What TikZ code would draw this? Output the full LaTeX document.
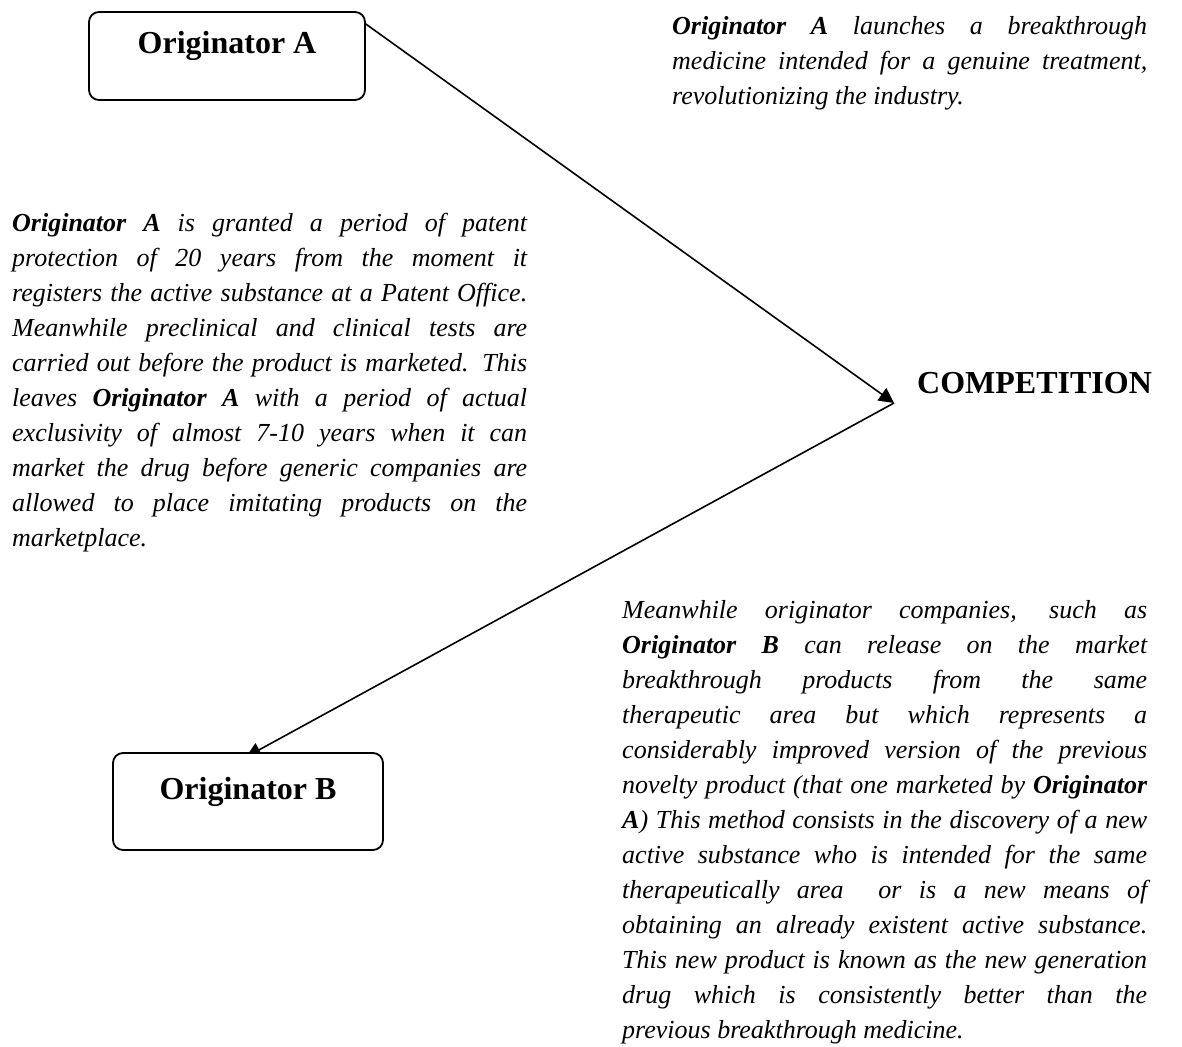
\documentclass[tikz,border=0pt]{standalone}
\usepackage{fontspec}
\setmainfont{Liberation Serif}[UprightFont=*,BoldFont=* Bold,ItalicFont=* Italic,BoldItalicFont=* Bold Italic]
\usetikzlibrary{arrows.meta,backgrounds}
\newcommand{\OrigA}{\textbf{Originator A}}
\newcommand{\OrigB}{\textbf{Originator B}}
\begin{document}
\begin{tikzpicture}[x=1pt,y=-1pt,
  box/.style={draw,line width=1.8pt,rounded corners=10pt,fill=white,inner sep=0pt,
    font=\fontsize{32}{38}\selectfont\bfseries,text height=24pt,text depth=29pt},
  head/.style={font=\fontsize{32}{38}\selectfont\bfseries,inner sep=0pt,anchor=base west},
  para/.style={inner sep=0pt,anchor=north west,align=justify,font=\fontsize{26}{35}\selectfont\itshape},
  conn/.style={line width=1.6pt,-{Triangle[length=15pt,width=15pt]}}]
\useasboundingbox (0,0) rectangle (1182,1046);

\node[box,minimum width=276pt,minimum height=88pt] (A) at (227,56) {Originator A};
\node[box,minimum width=270pt,minimum height=97pt] (B) at (248,801.5) {Originator B};
\node[head] (C) at (917,393) {COMPETITION};
\coordinate (J) at (894,403);
\coordinate (A1) at (363,22);
\coordinate (B1) at (246,757);

\begin{scope}[on background layer]
\draw[conn] (A1) -- (J);
\draw[conn] (J) -- (B1);
\end{scope}

\node[para,text width=475pt] (T1) at (672,9.5)
{\noindent\strut\OrigA{} launches a breakthrough\linebreak
medicine intended for a genuine treatment,\linebreak
revolutionizing the industry.};

\node[para,text width=515pt] (T2) at (12,206.5)
{\noindent\strut\OrigA{} is granted a period of patent\linebreak
protection of 20 years from the moment it\linebreak
registers the active substance at a Patent Office.\linebreak
Meanwhile preclinical and clinical tests are\linebreak
carried out before the product is marketed. This\linebreak
leaves \OrigA{} with a period of actual\linebreak
exclusivity of almost 7-10 years when it can\linebreak
market the drug before generic companies are\linebreak
allowed to place imitating products on the\linebreak
marketplace.};

\node[para,text width=525pt] (T3) at (622,593.5)
{\noindent\strut Meanwhile originator companies, such as\linebreak
\OrigB{} can release on the market\linebreak
breakthrough products from the same\linebreak
therapeutic area but which represents a\linebreak
considerably improved version of the previous\linebreak
novelty product (that one marketed by \textbf{Originator}\linebreak
\textbf{A}) This method consists in the discovery of a new\linebreak
active substance who is intended for the same\linebreak
therapeutically area\ \ or is a new means of\linebreak
obtaining an already existent active substance.\linebreak
This new product is known as the new generation\linebreak
drug which is consistently better than the\linebreak
previous breakthrough medicine.};
\end{tikzpicture}
\end{document}
